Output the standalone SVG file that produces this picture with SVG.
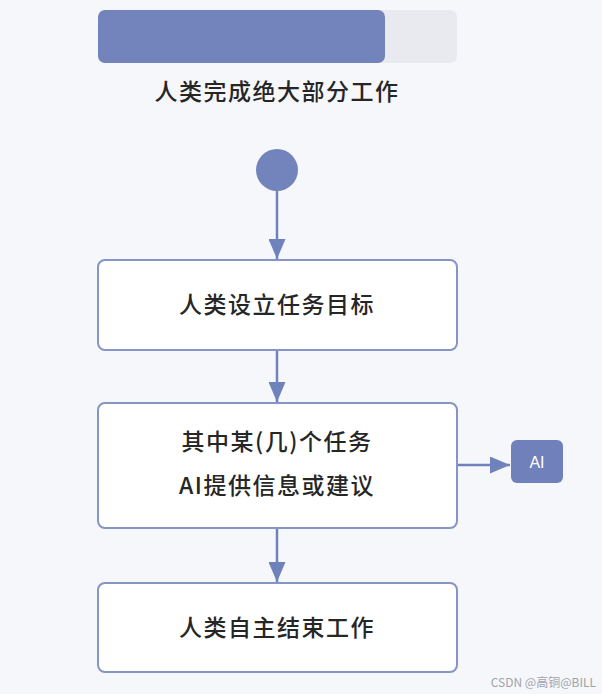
<svg xmlns="http://www.w3.org/2000/svg" width="602" height="694" viewBox="0 0 602 694">
<defs>
<style>
.bg{fill:#f6f7fa}
.box{fill:#ffffff;stroke:#8495c6;stroke-width:2}
.lbl{font-family:"Noto Sans CJK SC","Noto Sans",sans-serif;font-size:23px;font-weight:500;fill:#262626;text-anchor:middle;letter-spacing:1.5px}
.edge{stroke:#6f82bb;stroke-width:2.5;fill:none}
</style>
<marker id="ah2" viewBox="0 0 10 10" refX="10" refY="5" markerWidth="20" markerHeight="17" markerUnits="userSpaceOnUse" orient="auto" preserveAspectRatio="none">
<path d="M0,0 L10,5 L0,10 Z" fill="#6f82bb"/>
</marker>
</defs>
<rect class="bg" x="0" y="0" width="602" height="694"/>
<g id="progress">
<rect x="98" y="10" width="359" height="53" rx="7" fill="#e9eaef"/>
<rect x="98" y="10" width="287" height="53" rx="7" fill="#7384bd"/>
<text class="lbl" x="277" y="100">人类完成绝大部分工作</text>
</g>
<g id="start">
<circle cx="277" cy="170" r="21" fill="#7384bd"/>
</g>
<g id="connectors">
<line class="edge" x1="277" y1="191" x2="277" y2="259" marker-end="url(#ah2)"/>
<line class="edge" x1="277" y1="350" x2="277" y2="402" marker-end="url(#ah2)"/>
<line class="edge" x1="457" y1="465" x2="510" y2="465" marker-end="url(#ah2)"/>
<line class="edge" x1="277" y1="528" x2="277" y2="582" marker-end="url(#ah2)"/>
</g>
<g id="n1">
<rect class="box" x="98" y="260" width="359" height="90" rx="7"/>
<text class="lbl" x="277" y="313">人类设立任务目标</text>
</g>
<g id="n2">
<rect class="box" x="98" y="403" width="359" height="125" rx="7"/>
<text class="lbl" x="277" y="450">其中某(几)个任务</text>
<text class="lbl" x="277" y="494">AI提供信息或建议</text>
</g>
<g id="ai">
<rect x="511" y="440" width="52" height="43" rx="6" fill="#7080bb"/>
<text x="537" y="468" font-family="'Liberation Sans',sans-serif" font-size="16" fill="#ffffff" text-anchor="middle">AI</text>
</g>
<g id="n3">
<rect class="box" x="98" y="583" width="359" height="89" rx="7"/>
<text class="lbl" x="277" y="636">人类自主结束工作</text>
</g>
<text x="596" y="687" font-family="'Noto Sans CJK SC','Liberation Sans',sans-serif" font-size="12" fill="#a0a3aa" text-anchor="end">CSDN @高铜@BILL</text>
</svg>
